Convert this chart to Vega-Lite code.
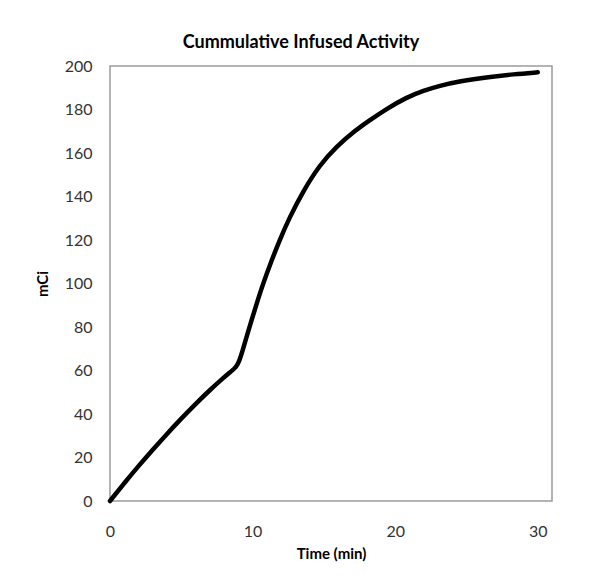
{
  "$schema": "https://vega.github.io/schema/vega-lite/v6.json",
  "autosize": {"type": "none"},
  "width": 442,
  "height": 435,
  "padding": {"left": 110, "top": 66, "right": 43, "bottom": 84},
  "background": "white",
  "title": {
    "text": "Cummulative Infused Activity",
    "font": "Lato",
    "fontSize": 18,
    "fontWeight": "bold",
    "color": "#000000",
    "anchor": "middle",
    "dx": -30,
    "baseline": "alphabetic",
    "offset": 20,
    "dy": 28
  },
  "config": {
    "view": {"stroke": "#9a9a9a", "strokeWidth": 1.5},
    "axis": {
      "grid": false,
      "ticks": false,
      "domain": false,
      "labelFont": "Lato",
      "labelFontSize": 16,
      "labelColor": "#333333",
      "titleFont": "Lato",
      "titleFontSize": 15,
      "titleFontWeight": "bold",
      "titleColor": "#000000"
    }
  },
  "data": {
    "values": [
      {"t": 0, "v": 0},
      {"t": 1, "v": 8.2},
      {"t": 2, "v": 16.1},
      {"t": 3, "v": 23.6},
      {"t": 4, "v": 30.9},
      {"t": 5, "v": 37.9},
      {"t": 6, "v": 44.6},
      {"t": 7, "v": 51},
      {"t": 8, "v": 56.9},
      {"t": 8.5, "v": 59.6},
      {"t": 8.85, "v": 61.6},
      {"t": 9.05, "v": 64},
      {"t": 9.3, "v": 69},
      {"t": 9.6, "v": 76},
      {"t": 9.93, "v": 83.2},
      {"t": 10.3, "v": 91},
      {"t": 10.74, "v": 100},
      {"t": 11.3, "v": 110},
      {"t": 11.9, "v": 120},
      {"t": 12.6, "v": 130.5},
      {"t": 13.55, "v": 142.5},
      {"t": 14.7, "v": 154.5},
      {"t": 15.9, "v": 163},
      {"t": 17.05, "v": 169.6},
      {"t": 18.2, "v": 175},
      {"t": 19.4, "v": 180.3},
      {"t": 20.8, "v": 185.6},
      {"t": 22, "v": 188.7},
      {"t": 23.1, "v": 190.9},
      {"t": 24.5, "v": 193},
      {"t": 26.6, "v": 195},
      {"t": 28.3, "v": 196.2},
      {"t": 30, "v": 197.1}
    ]
  },
  "mark": {"type": "line", "color": "#000000", "strokeWidth": 4.5, "interpolate": "basis", "strokeCap": "round"},
  "encoding": {
    "x": {
      "field": "t",
      "type": "quantitative",
      "title": "Time (min)",
      "scale": {"domain": [0, 31], "nice": false},
      "axis": {"values": [0, 10, 20, 30], "labelPadding": 22, "titlePadding": 7, "labelFlush": false}
    },
    "y": {
      "field": "v",
      "type": "quantitative",
      "title": "mCi",
      "scale": {"domain": [0, 200], "nice": false},
      "axis": {"values": [0, 20, 40, 60, 80, 100, 120, 140, 160, 180, 200], "labelPadding": 18, "titlePadding": 14, "labelFlush": false}
    }
  }
}
